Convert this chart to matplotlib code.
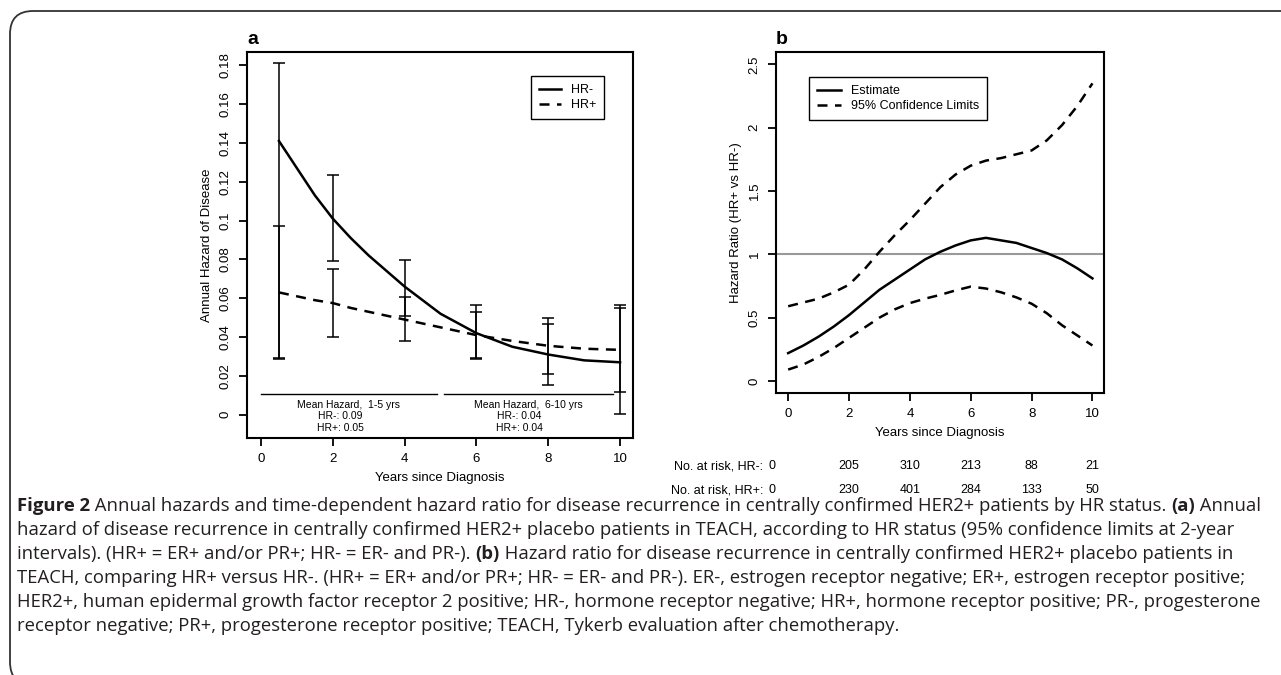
"""Figure 2: annual hazards by HR status (a) and time-dependent hazard ratio (b)."""

import matplotlib.pyplot as plt
from matplotlib.patches import FancyBboxPatch
from matplotlib.text import Annotation
from matplotlib.transforms import blended_transform_factory

plt.rcParams["font.family"] = ["Liberation Sans", "DejaVu Sans"]

# ----- panel a: annual hazard of disease -----
hz_years = [0.5, 1, 1.5, 2, 2.5, 3, 3.5, 4, 5, 6, 7, 8, 9, 10]
hz_neg = [0.141, 0.127, 0.113, 0.101, 0.091, 0.082, 0.074, 0.066, 0.052, 0.042,
          0.035, 0.031, 0.028, 0.027]
hz_pos = [0.063, 0.061, 0.059, 0.0575, 0.055, 0.053, 0.051, 0.049, 0.045, 0.041,
          0.038, 0.0355, 0.034, 0.0334]

ci_years = [0.5, 2, 4, 6, 8, 10]
ci_neg_est = [0.141, 0.101, 0.066, 0.042, 0.031, 0.027]
ci_neg_lo = [0.0288, 0.079, 0.0506, 0.0293, 0.0154, 0.0005]
ci_neg_hi = [0.181, 0.1235, 0.0797, 0.0566, 0.0467, 0.055]
ci_pos_est = [0.063, 0.0575, 0.049, 0.041, 0.0355, 0.0334]
ci_pos_lo = [0.029, 0.040, 0.038, 0.0287, 0.021, 0.0118]
ci_pos_hi = [0.0974, 0.075, 0.0607, 0.053, 0.050, 0.0566]

mean_groups = [("Mean Hazard,  1-5 yrs", "HR-: 0.09", "HR+: 0.05"),
               ("Mean Hazard,  6-10 yrs", "HR-: 0.04", "HR+: 0.04")]
mean_spans = [(0.0, 4.9), (5.1, 9.8)]

# ----- panel b: hazard ratio HR+ vs HR- -----
hr_years = [0, 0.5, 1, 1.5, 2, 2.5, 3, 3.5, 4, 4.5, 5, 5.5, 6, 6.5, 7, 7.5, 8,
            8.5, 9, 9.5, 10]
hr_est = [0.22, 0.28, 0.35, 0.43, 0.52, 0.62, 0.72, 0.80, 0.88, 0.96, 1.02, 1.07,
          1.11, 1.13, 1.11, 1.09, 1.05, 1.01, 0.96, 0.89, 0.81]
hr_upper = [0.59, 0.62, 0.65, 0.70, 0.76, 0.88, 1.02, 1.15, 1.27, 1.40, 1.53, 1.63,
            1.70, 1.74, 1.76, 1.79, 1.82, 1.90, 2.02, 2.17, 2.35]
hr_lower = [0.09, 0.13, 0.19, 0.26, 0.34, 0.42, 0.50, 0.565, 0.615, 0.65, 0.68, 0.715,
            0.745, 0.73, 0.70, 0.66, 0.61, 0.535, 0.44, 0.36, 0.28]

risk_years = [0, 2, 4, 6, 8, 10]
risk_neg = [0, 205, 310, 213, 88, 21]
risk_pos = [0, 230, 401, 284, 133, 50]

CAPTION = [
    [("Figure 2", True),
     (" Annual hazards and time-dependent hazard ratio for disease recurrence in "
      "centrally confirmed HER2+ patients by HR status. ", False),
     ("(a)", True), (" Annual", False)],
    [("hazard of disease recurrence in centrally confirmed HER2+ placebo patients in "
      "TEACH, according to HR status (95% confidence limits at 2-year", False)],
    [("intervals). (HR+ = ER+ and/or PR+; HR- = ER- and PR-). ", False), ("(b)", True),
     (" Hazard ratio for disease recurrence in centrally confirmed HER2+ placebo "
      "patients in", False)],
    [("TEACH, comparing HR+ versus HR-. (HR+ = ER+ and/or PR+; HR- = ER- and PR-). "
      "ER-, estrogen receptor negative; ER+, estrogen receptor positive;", False)],
    [("HER2+, human epidermal growth factor receptor 2 positive; HR-, hormone "
      "receptor negative; HR+, hormone receptor positive; PR-, progesterone", False)],
    [("receptor negative; PR+, progesterone receptor positive; TEACH, Tykerb "
      "evaluation after chemotherapy.", False)],
]

W, H = 1281, 675
FS = 9.5
DASH = (4, 3)


def r_style(ax):
    for s in ax.spines.values():
        s.set_linewidth(1.5)
    ax.tick_params(direction="out", length=6, width=1.3, labelsize=FS, pad=5)
    ax.tick_params(axis="y", labelrotation=90)
    for lab in ax.get_yticklabels():
        lab.set_va("center")


fig = plt.figure(figsize=(W / 100, H / 100), dpi=100)

# outer rounded frame (right and bottom edges fall outside the picture)
frame = FancyBboxPatch((10 / W, 1 - 685 / H), 1400 / W, 674 / H,
                       boxstyle="round,pad=0,rounding_size=0.018",
                       transform=fig.transFigure, fill=False,
                       edgecolor="#333333", linewidth=1.3, mutation_aspect=W / H)
fig.patches.append(frame)

# ----- panel a -----
ax1 = fig.add_axes([247 / W, 1 - 438 / H, 386 / W, 386.3 / H])
ax1.plot(hz_years, hz_neg, color="black", lw=1.8, label="HR-")
ax1.plot(hz_years, hz_pos, color="black", lw=1.8, dashes=DASH, label="HR+")
for est, lo, hi in [(ci_neg_est, ci_neg_lo, ci_neg_hi), (ci_pos_est, ci_pos_lo, ci_pos_hi)]:
    yerr = [[e - l for e, l in zip(est, lo)], [h - e for e, h in zip(est, hi)]]
    ax1.errorbar(ci_years, est, yerr=yerr, fmt="none", ecolor="black",
                 elinewidth=1.1, capsize=4, capthick=1.1)
for (x0, x1), lines in zip(mean_spans, mean_groups):
    ax1.plot([x0, x1], [0.0106, 0.0106], color="black", lw=1.0)
    xc = (x0 + x1) / 2
    ax1.text(xc, 0.0052, lines[0], ha="center", va="center", fontsize=7.5)
    ax1.text(xc - 0.25, -0.0009, lines[1], ha="center", va="center", fontsize=7.5)
    ax1.text(xc - 0.25, -0.0071, lines[2], ha="center", va="center", fontsize=7.5)
ax1.set_xlim(-0.39, 10.36)
ax1.set_ylim(-0.012, 0.187)
ax1.set_xticks([0, 2, 4, 6, 8, 10])
ax1.set_yticks([0, 0.02, 0.04, 0.06, 0.08, 0.1, 0.12, 0.14, 0.16, 0.18])
ax1.set_yticklabels(["0", "0.02", "0.04", "0.06", "0.08", "0.1", "0.12", "0.14",
                     "0.16", "0.18"])
r_style(ax1)
ax1.set_xlabel("Years since Diagnosis", fontsize=FS, labelpad=5)
ax1.set_ylabel("Annual Hazard of Disease", fontsize=FS, labelpad=5)
leg = ax1.legend(loc="upper right", bbox_to_anchor=(0.925, 0.937), borderaxespad=0,
                 fancybox=False, edgecolor="black", framealpha=1, fontsize=9,
                 handlelength=1.7, borderpad=0.65, labelspacing=0.25)
leg.get_frame().set_linewidth(1.0)
ax1.text(0, 1.01, "a", transform=ax1.transAxes, fontsize=14, fontweight="bold",
         ha="left", va="bottom")

# ----- panel b -----
ax2 = fig.add_axes([776 / W, 1 - 393 / H, 328 / W, 341.3 / H])
ax2.axhline(1, color="#999999", lw=1.5)
ax2.plot(hr_years, hr_est, color="black", lw=1.8, label="Estimate")
ax2.plot(hr_years, hr_upper, color="black", lw=1.8, dashes=DASH,
         label="95% Confidence Limits")
ax2.plot(hr_years, hr_lower, color="black", lw=1.8, dashes=DASH)
ax2.set_xlim(-0.40, 10.38)
ax2.set_ylim(-0.095, 2.6)
ax2.set_xticks([0, 2, 4, 6, 8, 10])
ax2.set_yticks([0, 0.5, 1, 1.5, 2, 2.5])
ax2.set_yticklabels(["0", "0.5", "1", "1.5", "2", "2.5"])
r_style(ax2)
ax2.set_xlabel("Years since Diagnosis", fontsize=FS, labelpad=5)
ax2.set_ylabel("Hazard Ratio (HR+ vs HR-)", fontsize=FS, labelpad=5)
leg = ax2.legend(loc="upper left", bbox_to_anchor=(0.1006, 0.926), borderaxespad=0,
                 fancybox=False, edgecolor="black", framealpha=1, fontsize=9,
                 handlelength=1.9, borderpad=0.65, labelspacing=0.25)
leg.get_frame().set_linewidth(1.0)
ax2.text(0, 1.01, "b", transform=ax2.transAxes, fontsize=14, fontweight="bold",
         ha="left", va="bottom")

trans = blended_transform_factory(ax2.transData, ax2.transAxes)
for row, (label, counts) in enumerate([("No. at risk, HR-:", risk_neg),
                                       ("No. at risk, HR+:", risk_pos)]):
    yy = -0.215 - row * 0.07
    ax2.text(-0.83, yy, label, transform=trans, ha="right", va="center",
             fontsize=9, clip_on=False)
    for i, (x, n) in enumerate(zip(risk_years, counts)):
        xx = x - 0.54 if i == 0 else x
        ax2.text(xx, yy, str(n), transform=trans, ha="center", va="center",
                 fontsize=9, clip_on=False)

# ----- caption: each run chained to the right of the previous one -----
cap_font = ["Open Sans", "DejaVu Sans"]
for i, parts in enumerate(CAPTION):
    y = 1 - (506 + 24 * i) / H
    prev = None
    for txt, bold in parts:
        kw = dict(fontsize=13.3, family=cap_font, color="#231f20",
                  fontweight="bold" if bold else "normal")
        if prev is None:
            prev = fig.text(17 / W, y, txt, ha="left", va="center", **kw)
        else:
            prev = fig.add_artist(Annotation(txt, xy=(1, 0), xycoords=prev,
                                             ha="left", va="bottom", **kw))

fig.savefig("out.png", dpi=100)
